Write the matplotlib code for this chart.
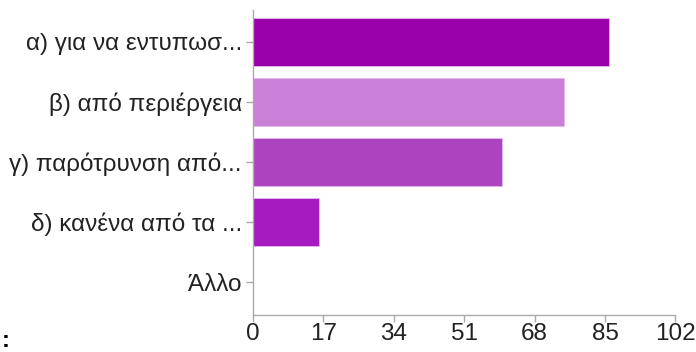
import matplotlib.pyplot as plt

plt.rcParams['font.family'] = ['Liberation Sans', 'DejaVu Sans']

# data
categories = ['α) για να εντυπωσ...', 'β) από περιέργεια', 'γ) παρότρυνση από...',
              'δ) κανένα από τα ...', 'Άλλο']
values = [86, 75, 60, 16, 0]
colors = ['#9900aa', '#c980d6', '#ad43be', '#a51bc0', '#9900aa']
xticks = [0, 17, 34, 51, 68, 85, 102]

fig = plt.figure(figsize=(6.96, 3.52), dpi=100)
ax = fig.add_axes([0.3635, 0.105, 0.9705 - 0.3635, 0.972 - 0.105])

ypos = range(len(categories))
ax.barh(ypos, values, height=0.8, color=colors, edgecolor='#e6b8ee', linewidth=0.6)

ax.set_ylim(4.55, -0.533)
ax.set_xlim(0, 102)
ax.set_yticks(list(ypos))
ax.set_yticklabels(categories, fontsize=17.5)
ax.set_xticks(xticks)
ax.set_xticklabels([str(t) for t in xticks], fontsize=17.5)

for s in ['top', 'right']:
    ax.spines[s].set_visible(False)
for s in ['left', 'bottom']:
    ax.spines[s].set_color('#aaaaaa')
    ax.spines[s].set_linewidth(1)
ax.tick_params(axis='both', colors='#aaaaaa', labelcolor='#222222', length=5, width=1)
ax.tick_params(axis='y', pad=3)
ax.tick_params(axis='x', pad=1)

fig.text(0.002, 0.0, ':', fontsize=17, fontweight='bold', ha='left', va='bottom')

fig.savefig('out.png', dpi=100)
